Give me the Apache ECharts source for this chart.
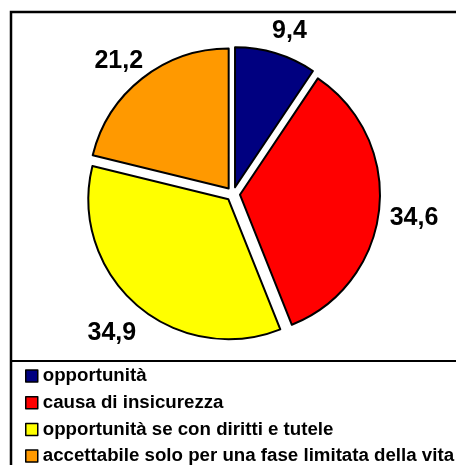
<!DOCTYPE html>
<html>
<head>
<meta charset="utf-8">
<script src="https://cdn.jsdelivr.net/npm/echarts@6/dist/echarts.min.js"></script>
<style>
html,body{margin:0;padding:0;background:#fff;}
#main{width:456px;height:465px;}
</style>
</head>
<body>
<div id="main"></div>
<script>
// categories and values (percent)
var categories = ['opportunità', 'causa di insicurezza', 'opportunità se con diritti e tutele', 'accettabile solo per una fase limitata della vita'];
var values = [9.4, 34.6, 34.9, 21.2];
var colors = ['#000080', '#ff0000', '#ffff00', '#ff9900'];

var myChart = echarts.init(document.getElementById('main'));

var pieData = [];
for (let i = 0; i < categories.length; i++) {
	pieData.push({
		name: categories[i],
		value: values[i],
		selected: true,
		itemStyle: {color: colors[i]}
	});
}

var option = {
	animation: false,
	backgroundColor: '#fff',
	textStyle: {fontFamily: 'Liberation Sans, Arial, sans-serif'},
	graphic: [
		{
			type: 'rect',
			shape: {x: 11, y: 12, width: 460, height: 470},
			style: {fill: 'none', stroke: '#000', lineWidth: 2.5},
			silent: true
		},
		{
			type: 'line',
			shape: {x1: 11, y1: 361, x2: 456, y2: 361},
			style: {stroke: '#000', lineWidth: 2},
			silent: true
		}
	],
	legend: {
		orient: 'vertical',
		left: 25,
		top: 366,
		height: 120,
		padding: 0,
		icon: 'rect',
		itemWidth: 12,
		itemHeight: 12,
		itemGap: 6.7,
		selectedMode: false,
		itemStyle: {borderColor: '#000', borderWidth: 1.5},
		textStyle: {
			fontFamily: 'Liberation Sans, Arial, sans-serif',
			fontWeight: 'bold',
			fontSize: 18.7,
			lineHeight: 20,
			color: '#000'
		},
		data: categories
	},
	series: [{
		type: 'pie',
		center: [233, 194],
		radius: 140,
		startAngle: 90,
		clockwise: true,
		selectedMode: 'multiple',
		selectedOffset: 7,
		itemStyle: {borderColor: '#000', borderWidth: 2},
		emphasis: {disabled: true},
		label: {
			show: true,
			position: 'outside',
			overflow: 'none',
			formatter: function (p) {
				return String(p.value).replace('.', ',');
			},
			fontFamily: 'Liberation Sans, Arial, sans-serif',
			fontWeight: 'bold',
			fontSize: 25,
			color: '#000'
		},
		labelLine: {show: false, length: 30, length2: 0},
		labelLayout: function () {
			return {align: 'center', dy: 6};
		},
		data: pieData
	}]
};

myChart.setOption(option);
</script>
</body>
</html>
